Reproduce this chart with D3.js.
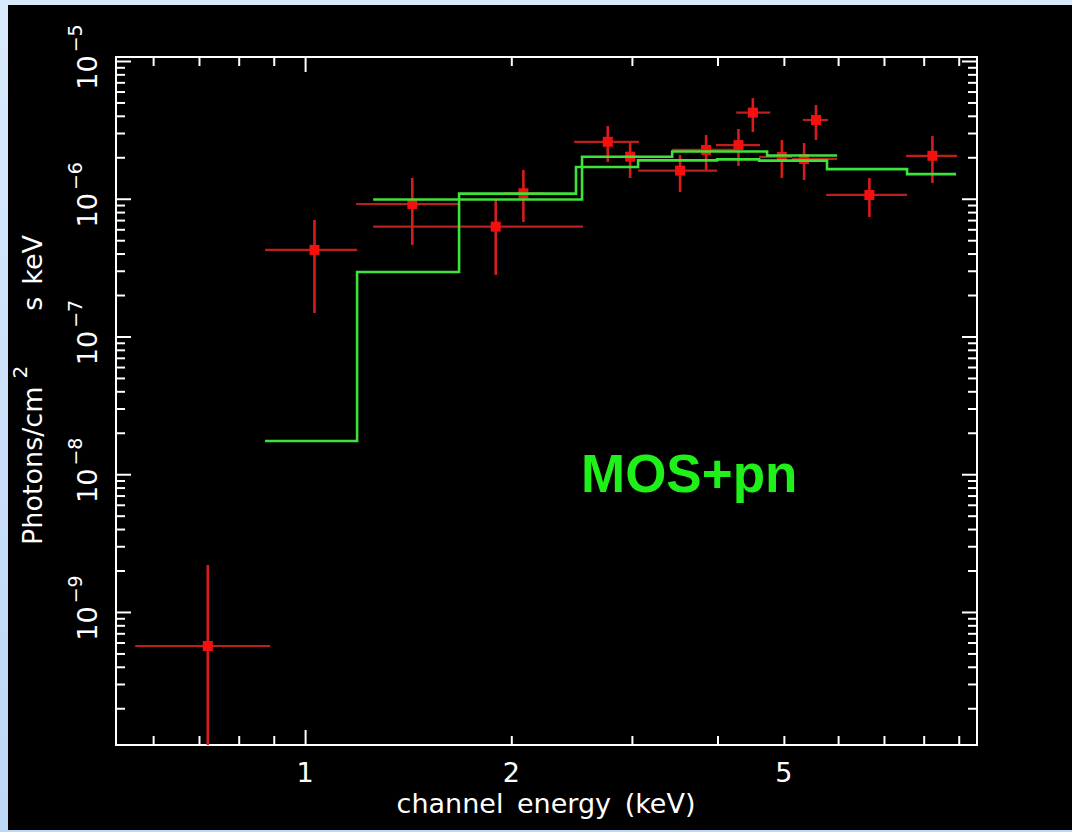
<!DOCTYPE html>
<html>
<head>
<meta charset="utf-8">
<script src="https://cdn.jsdelivr.net/npm/d3@7"></script>
<style>
  body { margin: 0; background: #cfe2fa; }
  svg { display: block; }
</style>
</head>
<body>
<div id="spectrum"></div>
<script>
// data points: energy in keV, flux in photons/cm2 s keV
var energy   = [0.721, 1.032, 1.434, 1.898, 2.083, 2.766, 2.982, 3.527, 3.85, 4.292, 4.505, 4.966, 5.352, 5.57, 6.665, 8.238];
var energyLo = [0.565, 0.874, 1.187, 1.257, 1.95, 2.47, 2.90, 3.063, 3.435, 3.98, 4.26, 4.6, 5.14, 5.33, 5.764, 7.54];
var energyHi = [0.889, 1.191, 1.678, 2.546, 2.24, 3.073, 3.06, 3.995, 4.29, 4.614, 4.775, 5.14, 5.98, 5.80, 7.565, 8.95];
var flux     = [5.66e-10, 4.25e-7, 9.16e-7, 6.27e-7, 1.096e-6, 2.59e-6, 2.02e-6, 1.60e-6, 2.26e-6, 2.45e-6, 4.22e-6, 2.01e-6, 1.944e-6, 3.73e-6, 1.065e-6, 2.05e-6];
var fluxLo   = [1e-11, 1.48e-7, 4.62e-7, 2.80e-7, 6.78e-7, 1.85e-6, 1.415e-6, 1.12e-6, 1.62e-6, 1.73e-6, 3.05e-6, 1.415e-6, 1.368e-6, 2.67e-6, 7.37e-7, 1.30e-6];
var fluxHi   = [2.19e-9, 7.01e-7, 1.415e-6, 9.79e-7, 1.618e-6, 3.37e-6, 2.58e-6, 2.08e-6, 2.90e-6, 3.21e-6, 5.38e-6, 2.67e-6, 2.54e-6, 4.79e-6, 1.415e-6, 2.85e-6];

// model curves (step histograms), bin edges and values
var modelAEdges  = [1.257, 2.537, 3.435, 4.726, 5.98];
var modelAValues = [9.88e-7, 2.02e-6, 2.20e-6, 2.06e-6];
var modelBEdges  = [0.874, 1.191, 1.678, 2.486, 3.063, 3.995, 4.6, 5.78, 7.565, 8.92];
var modelBValues = [1.743e-8, 2.94e-7, 1.09e-6, 1.70e-6, 1.90e-6, 1.93e-6, 1.89e-6, 1.64e-6, 1.51e-6];

// axis ticks
var xTickLabels = [1, 2, 5];
var xMajorTicks = [1];
var xMinorTicks = [0.6, 0.7, 0.8, 0.9, 2, 3, 4, 5, 6, 7, 8, 9];
var yExponents  = [-5, -6, -7, -8, -9];
var yMinorSteps = [2, 3, 4, 5, 6, 7, 8, 9];

var width = 1072, height = 832;
var plot = {left: 116, right: 977, top: 57, bottom: 745};

function spectrumMain() {
  var svg = d3.select('#spectrum').append('svg')
    .attr('width', width)
    .attr('height', height);

  // light blue slide background + black panel
  var grad = svg.append('defs').append('linearGradient')
    .attr('id', 'bg').attr('x1', 0).attr('y1', 0).attr('x2', 0).attr('y2', 1);
  grad.append('stop').attr('offset', 0).attr('stop-color', '#d9eafd');
  grad.append('stop').attr('offset', 1).attr('stop-color', '#bcd6f6');
  svg.append('rect').attr('width', width).attr('height', height).attr('fill', 'url(#bg)');
  svg.append('rect').attr('x', 8).attr('y', 5).attr('width', width - 8).attr('height', 825).attr('fill', '#000');

  svg.select('defs').append('clipPath').attr('id', 'plotclip')
    .append('rect')
    .attr('x', plot.left).attr('y', plot.top)
    .attr('width', plot.right - plot.left).attr('height', plot.bottom - plot.top);

  var x = d3.scaleLog().domain([0.5296, 9.57]).range([plot.left, plot.right]);
  var y = d3.scaleLog().domain([1.082e-10, 1.069e-5]).range([plot.bottom, plot.top]);

  // minor y ticks, every 2..9 inside the range
  var yMinorTicks = [];
  for (var e = -11; e <= -5; e++) {
    yMinorSteps.forEach(function(m) {
      var v = m * Math.pow(10, e);
      if (v > y.domain()[0] && v < y.domain()[1]) yMinorTicks.push(v);
    });
  }
  var yMajorTicks = yExponents.map(function(e) { return Math.pow(10, e); });

  var axisColor = '#fff';
  var major = 15, minor = 9;

  // ticks all point inward on four sides
  function addAxis(axisFn, scale, ticks, size, tx, ty) {
    svg.append('g')
      .attr('transform', 'translate(' + tx + ',' + ty + ')')
      .call(axisFn(scale).tickValues(ticks).tickSize(-size).tickFormat(''))
      .call(function(g) { g.select('.domain').remove(); })
      .selectAll('line')
      .attr('stroke', axisColor)
      .attr('stroke-width', 2);
  }
  addAxis(d3.axisBottom, x, xMajorTicks, major, 0, plot.bottom);
  addAxis(d3.axisBottom, x, xMinorTicks, minor, 0, plot.bottom);
  addAxis(d3.axisTop, x, xMajorTicks, major, 0, plot.top);
  addAxis(d3.axisTop, x, xMinorTicks, minor, 0, plot.top);
  addAxis(d3.axisLeft, y, yMajorTicks, major, plot.left, 0);
  addAxis(d3.axisLeft, y, yMinorTicks, minor, plot.left, 0);
  addAxis(d3.axisRight, y, yMajorTicks, major, plot.right, 0);
  addAxis(d3.axisRight, y, yMinorTicks, minor, plot.right, 0);

  svg.append('rect')
    .attr('x', plot.left).attr('y', plot.top)
    .attr('width', plot.right - plot.left).attr('height', plot.bottom - plot.top)
    .attr('fill', 'none')
    .attr('stroke', axisColor)
    .attr('stroke-width', 2);

  var font = "'DejaVu Sans', sans-serif";

  // x tick labels
  svg.selectAll('.xlabel')
    .data(xTickLabels)
    .enter().append('text')
    .attr('class', 'xlabel')
    .attr('x', function(d) { return x(d); })
    .attr('y', 782)
    .attr('text-anchor', 'middle')
    .attr('font-family', font)
    .attr('font-size', 27)
    .attr('fill', '#fff')
    .text(function(d) { return d; });

  // y tick labels 10^-n, rotated
  yExponents.forEach(function(e) {
    var t = svg.append('text')
      .attr('transform', 'translate(97,' + (y(Math.pow(10, e)) - 4) + ') rotate(-90)')
      .attr('text-anchor', 'middle')
      .attr('font-family', font)
      .attr('fill', '#fff');
    t.append('tspan').attr('font-size', 27).text('10');
    t.append('tspan').attr('font-size', 19).attr('dx', 3).attr('dy', -15).text('\u2212' + (-e));
  });

  // axis titles
  svg.append('text')
    .attr('x', 546)
    .attr('y', 813)
    .attr('text-anchor', 'middle')
    .attr('font-family', font)
    .attr('font-size', 27)
    .attr('word-spacing', 5)
    .attr('fill', '#fff')
    .text('channel energy (keV)');

  var yt = svg.append('text')
    .attr('transform', 'translate(42,545) rotate(-90)')
    .attr('font-family', font)
    .attr('fill', '#fff');
  yt.append('tspan').attr('font-size', 27).text('Photons/cm');
  yt.append('tspan').attr('font-size', 20).attr('dx', 8).attr('dy', -15).text('2');
  yt.append('tspan').attr('font-size', 27).attr('dx', 55).attr('dy', 15).text('s');
  yt.append('tspan').attr('font-size', 27).attr('dx', 12).text('keV');

  var data = energy.map(function(d, i) {
    return {e: d, eLo: energyLo[i], eHi: energyHi[i], f: flux[i], fLo: fluxLo[i], fHi: fluxHi[i]};
  });

  var dataG = svg.append('g').attr('clip-path', 'url(#plotclip)');

  // error bars
  dataG.selectAll('.xerr')
    .data(data)
    .enter().append('line')
    .attr('class', 'xerr')
    .attr('x1', function(d) { return x(d.eLo); })
    .attr('x2', function(d) { return x(d.eHi); })
    .attr('y1', function(d) { return y(d.f); })
    .attr('y2', function(d) { return y(d.f); })
    .attr('stroke', '#bf1e1e')
    .attr('stroke-width', 2.2);

  dataG.selectAll('.yerr')
    .data(data)
    .enter().append('line')
    .attr('class', 'yerr')
    .attr('x1', function(d) { return x(d.e); })
    .attr('x2', function(d) { return x(d.e); })
    .attr('y1', function(d) { return y(d.fLo); })
    .attr('y2', function(d) { return y(d.fHi); })
    .attr('stroke', '#d81c1c')
    .attr('stroke-width', 2.6);

  dataG.selectAll('.pt')
    .data(data)
    .enter().append('rect')
    .attr('class', 'pt')
    .attr('x', function(d) { return x(d.e) - 5; })
    .attr('y', function(d) { return y(d.f) - 5; })
    .attr('width', 10)
    .attr('height', 10)
    .attr('fill', '#f51010');

  // model step lines on top
  var step = d3.line()
    .x(function(d) { return x(d[0]); })
    .y(function(d) { return y(d[1]); })
    .curve(d3.curveStepAfter);

  function stepPoints(edges, values) {
    var pts = values.map(function(v, i) { return [edges[i], v]; });
    pts.push([edges[edges.length - 1], values[values.length - 1]]);
    return pts;
  }

  [[modelBEdges, modelBValues], [modelAEdges, modelAValues]].forEach(function(m) {
    dataG.append('path')
      .datum(stepPoints(m[0], m[1]))
      .attr('d', step)
      .attr('fill', 'none')
      .attr('stroke', '#3fe23a')
      .attr('stroke-width', 2.6);
  });

  // instrument label
  svg.append('text')
    .attr('x', 581)
    .attr('y', 492)
    .attr('font-family', "'Liberation Sans', Arial, sans-serif")
    .attr('font-weight', 'bold')
    .attr('font-size', 53)
    .attr('fill', '#1ff01a')
    .text('MOS+pn');
}

spectrumMain();
</script>
</body>
</html>
